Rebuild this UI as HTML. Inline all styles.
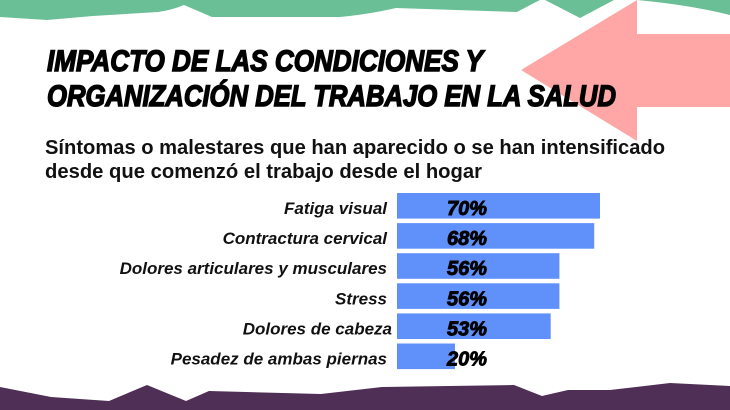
<!DOCTYPE html>
<html lang="es">
<head>
<meta charset="utf-8">
<title>Impacto de las condiciones</title>
<style>
html,body{margin:0;padding:0;background:#fff;}
svg{display:block;}
text{font-family:"Liberation Sans",sans-serif;}
</style>
</head>
<body>
<svg id="chart" width="730" height="410" viewBox="0 0 730 410" xmlns="http://www.w3.org/2000/svg">
  <rect width="730" height="410" fill="#ffffff"/>
  <path d="M0 0V17L47 20L93 16L158 12Q172 10 184 5L212 17L340 17Q370 14 396 8L517 12L534 3L540 0Z" fill="#6abf96"/>
  <path d="M545 0L580 18L614 0Z" fill="#6abf96"/>
  <path d="M637 0Q690 5 730 15V0Z" fill="#6abf96"/>
  <path d="M521 70L637 0V34H730V107H637V141Z" fill="#ffa6a6"/>
  <path d="M0 387L51 397L109 401L147 385L186 401L209 391L321 394L382 387L514 385L542 396L568 390L610 390L670 383L730 386V410H0Z" fill="#4f2f55"/>
  <g font-weight="700" font-style="italic" fill="#000" stroke="#000" stroke-width="1.5">
    <text x="47" y="71" font-size="30" textLength="436" lengthAdjust="spacingAndGlyphs">IMPACTO DE LAS CONDICIONES Y</text>
    <text x="47" y="106" font-size="30" textLength="569" lengthAdjust="spacingAndGlyphs">ORGANIZACIÓN DEL TRABAJO EN LA SALUD</text>
  </g>
  <g font-weight="700" fill="#111">
    <text x="45" y="154" font-size="20" textLength="620" lengthAdjust="spacingAndGlyphs">Síntomas o malestares que han aparecido o se han intensificado</text>
    <text x="45" y="178" font-size="20" textLength="437" lengthAdjust="spacingAndGlyphs">desde que comenzó el trabajo desde el hogar</text>
  </g>
  <g id="bars"></g>
  <g id="cats"></g>
  <g id="vals"></g>
</svg>
<script>
const categories = ["Fatiga visual", "Contractura cervical", "Dolores articulares y musculares", "Stress", "Dolores de cabeza", "Pesadez de ambas piernas"];
const values = [70, 68, 56, 56, 53, 20];
const valueSuffix = "%";

const NS = "http://www.w3.org/2000/svg";
const x0 = 397, pxPerPct = 2.9, y0 = 193, rowStep = 30.1, barH = 25.6;
function xScale(v) { return x0 + v * pxPerPct; }
function yScale(i) { return y0 + i * rowStep; }
const barsG = document.getElementById("bars");
const catsG = document.getElementById("cats");
const valsG = document.getElementById("vals");
categories.forEach(function (cat, i) {
  const r = document.createElementNS(NS, "rect");
  r.setAttribute("x", x0);
  r.setAttribute("y", yScale(i));
  r.setAttribute("width", xScale(values[i]) - x0);
  r.setAttribute("height", barH);
  r.setAttribute("fill", "#6091fb");
  
  
  barsG.appendChild(r);

  const t = document.createElementNS(NS, "text");
  t.textContent = cat;
  t.setAttribute("x", i === 4 ? 392 : 387);
  t.setAttribute("y", yScale(i) + 21);
  t.setAttribute("text-anchor", "end");
  t.setAttribute("font-size", "17");
  t.setAttribute("font-weight", "700");
  t.setAttribute("font-style", "italic");
  t.setAttribute("fill", "#111");
  
  
  catsG.appendChild(t);

  const v = document.createElementNS(NS, "text");
  v.textContent = values[i] + valueSuffix;
  v.setAttribute("x", 487);
  v.setAttribute("y", yScale(i) + 22);
  v.setAttribute("text-anchor", "end");
  v.setAttribute("font-size", "20");
  v.setAttribute("font-weight", "700");
  v.setAttribute("font-style", "italic");
  v.setAttribute("fill", "#000");
  v.setAttribute("stroke", "#000");
  v.setAttribute("stroke-width", "0.9");
  
  
  valsG.appendChild(v);
});
</script>
</body>
</html>
